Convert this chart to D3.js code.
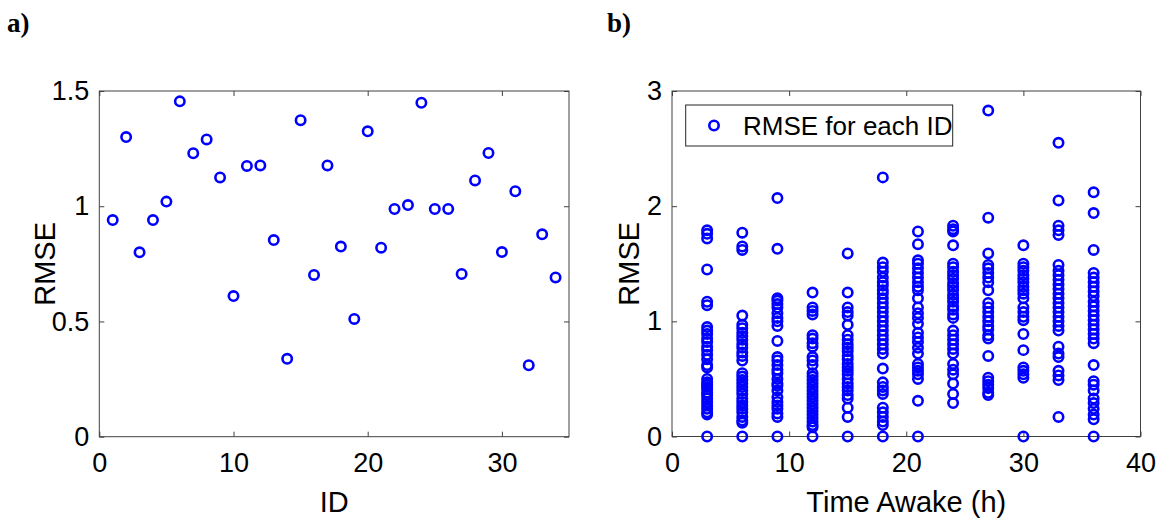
<!DOCTYPE html>
<html>
<head>
<meta charset="utf-8">
<script src="https://cdn.jsdelivr.net/npm/d3@7"></script>
<style>
  html, body { margin: 0; padding: 0; background: #fff; }
  svg { display: block; }
  .tick text { font-family: "Liberation Sans", Arial, sans-serif; font-size: 27px; fill: #000; }
  .tick line { stroke: #404040; }
  .domain { display: none; }
</style>
</head>
<body>
<svg id="fig" width="1159" height="520"></svg>
<script>
// Panel a: RMSE per participant ID
const ids = d3.range(1, 35);
const rmseById = [0.94, 1.30, 0.80, 0.94, 1.02, 1.455, 1.23, 1.29, 1.125, 0.61,
                  1.175, 1.177, 0.853, 0.338, 1.373, 0.702, 1.177, 0.825, 0.511, 1.325,
                  0.82, 0.988, 1.005, 1.449, 0.988, 0.988, 0.706, 1.112, 1.231, 0.801,
                  1.065, 0.31, 0.878, 0.691];

// Panel b: RMSE values at each time-awake checkpoint (hours)
const hoursAwake = [3, 6, 9, 12, 15, 18, 21, 24, 27, 30, 33, 36];
const rmseH3  = [1.79, 1.76, 1.72, 1.45, 1.17, 1.14, 0.95, 0.92, 0.89, 0.85, 0.82, 0.78, 0.75, 0.71, 0.67, 0.62, 0.60, 0.50, 0.47, 0.45, 0.43, 0.41, 0.38, 0.36, 0.33, 0.30, 0.27, 0.24, 0.21, 0.19, 0];
const rmseH6  = [1.77, 1.65, 1.62, 1.05, 0.97, 0.94, 0.90, 0.87, 0.84, 0.80, 0.77, 0.73, 0.70, 0.66, 0.55, 0.52, 0.49, 0.46, 0.43, 0.40, 0.37, 0.33, 0.30, 0.27, 0.24, 0.21, 0.17, 0.14, 0.12, 0];
const rmseH9  = [2.07, 1.63, 1.20, 1.18, 1.15, 1.12, 1.07, 1.03, 1.00, 0.96, 0.83, 0.69, 0.66, 0.62, 0.58, 0.55, 0.50, 0.46, 0.44, 0.40, 0.34, 0.30, 0.27, 0.24, 0.20, 0.17, 0];
const rmseH12 = [1.25, 1.12, 1.09, 1.06, 0.88, 0.85, 0.81, 0.78, 0.69, 0.66, 0.62, 0.55, 0.52, 0.49, 0.46, 0.43, 0.40, 0.37, 0.34, 0.31, 0.28, 0.25, 0.22, 0.19, 0.16, 0.13, 0.10, 0.08, 0];
const rmseH15 = [1.59, 1.25, 1.12, 1.08, 1.05, 0.97, 0.88, 0.84, 0.80, 0.77, 0.74, 0.70, 0.67, 0.63, 0.60, 0.57, 0.54, 0.50, 0.46, 0.43, 0.40, 0.36, 0.33, 0.25, 0.17, 0];
const rmseH18 = [2.25, 1.51, 1.47, 1.43, 1.38, 1.34, 1.31, 1.27, 1.24, 1.20, 1.16, 1.12, 1.08, 1.04, 1.00, 0.96, 0.92, 0.88, 0.84, 0.80, 0.76, 0.72, 0.59, 0.47, 0.43, 0.40, 0.37, 0.25, 0.21, 0.17, 0.13, 0.10, 0];
const rmseH21 = [1.78, 1.67, 1.53, 1.50, 1.46, 1.42, 1.38, 1.34, 1.30, 1.27, 1.20, 1.12, 1.07, 1.03, 0.98, 0.90, 0.86, 0.82, 0.77, 0.72, 0.63, 0.60, 0.57, 0.54, 0.50, 0.31, 0];
const rmseH24 = [1.83, 1.80, 1.78, 1.66, 1.50, 1.47, 1.43, 1.40, 1.37, 1.33, 1.30, 1.27, 1.23, 1.20, 1.17, 1.13, 1.10, 1.06, 1.03, 0.92, 0.88, 0.84, 0.80, 0.76, 0.72, 0.63, 0.58, 0.54, 0.46, 0.37, 0.29];
const rmseH27 = [2.83, 1.90, 1.59, 1.49, 1.46, 1.42, 1.38, 1.34, 1.27, 1.16, 1.12, 1.08, 1.04, 1.00, 0.96, 0.93, 0.88, 0.85, 0.70, 0.51, 0.48, 0.45, 0.42, 0.38, 0.36];
const rmseH30 = [1.66, 1.50, 1.47, 1.44, 1.40, 1.37, 1.34, 1.30, 1.27, 1.24, 1.20, 1.12, 1.08, 1.04, 1.01, 0.89, 0.75, 0.60, 0.57, 0.54, 0.51, 0];
const rmseH33 = [2.55, 2.05, 1.83, 1.79, 1.75, 1.49, 1.44, 1.40, 1.36, 1.32, 1.28, 1.24, 1.20, 1.16, 1.12, 1.08, 1.04, 1.00, 0.96, 0.92, 0.78, 0.72, 0.69, 0.57, 0.53, 0.49, 0.17];
const rmseH36 = [2.12, 1.94, 1.62, 1.42, 1.38, 1.34, 1.30, 1.26, 1.22, 1.17, 1.13, 1.09, 1.05, 1.01, 0.97, 0.93, 0.89, 0.85, 0.81, 0.62, 0.48, 0.45, 0.40, 0.33, 0.29, 0.24, 0.19, 0.15, 0];

// Tick values
const ticksAX = [0, 10, 20, 30];
const ticksAY = [0, 0.5, 1, 1.5];
const ticksBX = [0, 10, 20, 30, 40];
const ticksBY = [0, 1, 2, 3];

const legendLabel = "RMSE for each ID";

const rmseByHour = [rmseH3, rmseH6, rmseH9, rmseH12, rmseH15, rmseH18,
                    rmseH21, rmseH24, rmseH27, rmseH30, rmseH33, rmseH36];
const pointsB = hoursAwake.flatMap((h, i) => rmseByHour[i].map(v => ({ h, v })));
const pointsA = ids.map((id, i) => ({ id, v: rmseById[i] }));

const svg = d3.select("#fig");
const FONT = '"Liberation Sans", Arial, sans-serif';
const BLUE = "#0000ff";
const R = 4.7;
const SW = 2.6;

function drawPanel(cfg) {
  const g = svg.append("g");
  const [x0, x1] = cfg.x.range();
  const [y0, y1] = cfg.y.range();

  // plot box
  g.append("rect")
    .attr("x", x0).attr("y", y1)
    .attr("width", x1 - x0).attr("height", y0 - y1)
    .attr("fill", "#fff").attr("stroke", "#404040").attr("stroke-width", 1);

  // axes with inward ticks
  g.append("g").attr("transform", `translate(0,${y0})`)
    .call(d3.axisBottom(cfg.x).tickValues(cfg.xt).tickSizeInner(-5).tickSizeOuter(0).tickPadding(16).tickFormat(d3.format("")));
  g.append("g").attr("transform", `translate(0,${y1})`)
    .call(d3.axisTop(cfg.x).tickValues(cfg.xt).tickSizeInner(-5).tickSizeOuter(0).tickFormat(""));
  g.append("g").attr("transform", `translate(${x0},0)`)
    .call(d3.axisLeft(cfg.y).tickValues(cfg.yt).tickSizeInner(-5).tickSizeOuter(0).tickPadding(10).tickFormat(d3.format("")));
  g.append("g").attr("transform", `translate(${x1},0)`)
    .call(d3.axisRight(cfg.y).tickValues(cfg.yt).tickSizeInner(-5).tickSizeOuter(0).tickFormat(""));

  // axis titles
  g.append("text")
    .attr("x", (x0 + x1) / 2).attr("y", 512)
    .attr("text-anchor", "middle")
    .style("font-family", FONT).style("font-size", "29px").attr("fill", "#000")
    .text(cfg.xLabel);
  g.append("text")
    .attr("transform", `translate(${cfg.yLabelX},${(y0 + y1) / 2}) rotate(-90)`)
    .attr("text-anchor", "middle").attr("dy", "0.35em")
    .style("font-family", FONT).style("font-size", "29px").attr("fill", "#000")
    .text("RMSE");

  // panel tag
  svg.append("text")
    .attr("x", cfg.tagX).attr("y", 32)
    .style("font-family", '"Liberation Serif", "Times New Roman", serif')
    .style("font-size", "27px").style("font-weight", "bold").attr("fill", "#000")
    .text(cfg.tag);

  return g;
}

// ---- Panel a ----
const xA = d3.scaleLinear().domain([0, 35]).range([99.3, 569]);
const yA = d3.scaleLinear().domain([0, 1.5]).range([436.7, 91]);
const gA = drawPanel({ x: xA, y: yA, xt: ticksAX, yt: ticksAY, xLabel: "ID", yLabelX: 45, tag: "a)", tagX: 7 });
gA.append("g").selectAll("circle").data(pointsA).join("circle")
  .attr("cx", d => xA(d.id)).attr("cy", d => yA(d.v)).attr("r", R)
  .attr("fill", "none").attr("stroke", BLUE).attr("stroke-width", SW);

// ---- Panel b ----
const xB = d3.scaleLinear().domain([0, 40]).range([672, 1140.5]);
const yB = d3.scaleLinear().domain([0, 3]).range([436.5, 91]);
const gB = drawPanel({ x: xB, y: yB, xt: ticksBX, yt: ticksBY, xLabel: "Time Awake (h)", yLabelX: 629, tag: "b)", tagX: 607 });
gB.append("g").selectAll("circle").data(pointsB).join("circle")
  .attr("cx", d => xB(d.h)).attr("cy", d => yB(d.v)).attr("r", R)
  .attr("fill", "none").attr("stroke", BLUE).attr("stroke-width", SW);

// legend
const leg = gB.append("g");
leg.append("rect")
  .attr("x", 685.7).attr("y", 105).attr("width", 267).attr("height", 41)
  .attr("fill", "#fff").attr("stroke", "#262626").attr("stroke-width", 1);
leg.append("circle")
  .attr("cx", 714).attr("cy", 125.5).attr("r", R)
  .attr("fill", "none").attr("stroke", BLUE).attr("stroke-width", SW);
leg.append("text")
  .attr("x", 743).attr("y", 125.5).attr("dy", "0.35em")
  .style("font-family", FONT).style("font-size", "26px").attr("fill", "#000")
  .text(legendLabel);
</script>
</body>
</html>
